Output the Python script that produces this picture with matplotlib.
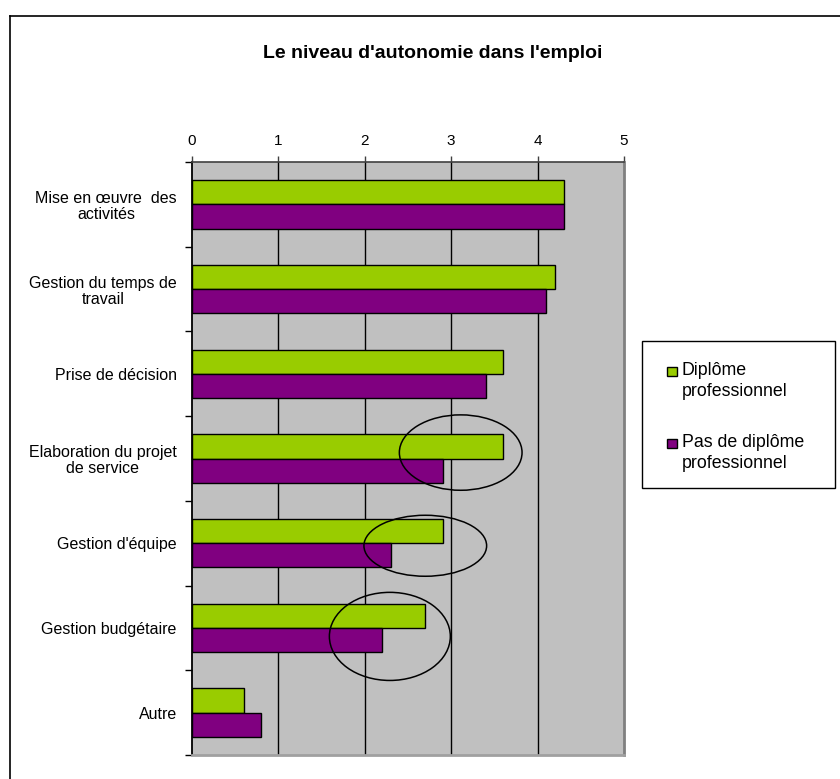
import matplotlib
matplotlib.use("Agg")
import matplotlib.pyplot as plt
import numpy as np
from matplotlib.patches import Ellipse, Rectangle
from matplotlib.lines import Line2D

plt.rcParams['font.family'] = ['Liberation Sans', 'DejaVu Sans']

# Data
categories = [
    "Mise en œuvre  des\nactivités",
    "Gestion du temps de\ntravail",
    "Prise de décision",
    "Elaboration du projet\nde service",
    "Gestion d'équipe",
    "Gestion budgétaire",
    "Autre",
]
series_names = ["Diplôme\nprofessionnel", "Pas de diplôme\nprofessionnel"]
diplome = [4.3, 4.2, 3.6, 3.6, 2.9, 2.7, 0.6]
sans_diplome = [4.3, 4.1, 3.4, 2.9, 2.3, 2.2, 0.8]
x_ticks = [0, 1, 2, 3, 4, 5]

colors = ["#99CC00", "#800080"]

W, H = 840, 779
fig = plt.figure(figsize=(W / 100, H / 100), dpi=100)
fig.patch.set_facecolor("white")

# Outer chart frame (left and top edges)
fig.add_artist(Line2D([9.5 / W, 9.5 / W], [0, 1 - 15.5 / H], color="black", lw=1.2))
fig.add_artist(Line2D([9.5 / W, 1], [1 - 15.5 / H, 1 - 15.5 / H], color="black", lw=1.2))

left, right, top, bottom = 192, 624, 162, 755
ax = fig.add_axes([left / W, 1 - bottom / H, (right - left) / W, (bottom - top) / H])
ax.set_facecolor("#C0C0C0")

y = np.arange(len(categories))
bar_h = 0.286
ax.barh(y - bar_h / 2, diplome, height=bar_h, color=colors[0], edgecolor="black", linewidth=1, zorder=3)
ax.barh(y + bar_h / 2, sans_diplome, height=bar_h, color=colors[1], edgecolor="black", linewidth=1, zorder=3)

ax.set_xlim(0, 5)
ax.set_ylim(len(categories) - 0.5, -0.5)

# Vertical gridlines
for v in x_ticks[1:-1]:
    ax.axvline(v, color="black", lw=1, zorder=1)

# Top value axis
ax.xaxis.tick_top()
ax.set_xticks(x_ticks)
ax.set_xticklabels([str(t) for t in x_ticks], fontsize=11)
ax.tick_params(axis="x", direction="out", length=4, width=1, pad=6, colors="#404040", labelcolor="black")

# Category axis: labels at centers, ticks at boundaries
ax.set_yticks(y)
ax.set_yticklabels(categories, fontsize=11.5)
for t in ax.get_yticklabels():
    t.set_multialignment("center")
    t.set_linespacing(1.1)
ax.tick_params(axis="y", which="major", length=0, pad=11)
ax.set_yticks(np.arange(-0.5, len(categories) + 0.5, 1), minor=True)
ax.tick_params(axis="y", which="minor", direction="out", length=5, width=1, color="black")

ax.spines["left"].set_color("black")
ax.spines["left"].set_linewidth(1.3)
ax.spines["top"].set_color("#404040")
ax.spines["top"].set_linewidth(1.2)
ax.spines["right"].set_color("#808080")
ax.spines["right"].set_linewidth(2)
ax.spines["bottom"].set_color("#A0A0A0")
ax.spines["bottom"].set_linewidth(2)

# Highlight ellipses around the gaps
for cx, cy, ew, eh in [(3.11, 2.93, 1.42, 0.89), (2.70, 4.03, 1.42, 0.72), (2.29, 5.10, 1.40, 1.04)]:
    ax.add_patch(Ellipse((cx, cy), ew, eh, fill=False, edgecolor="black", lw=1.1, zorder=5))

# Title
fig.text(432.5 / W, 1 - 54 / H, "Le niveau d'autonomie dans l'emploi", ha="center", va="center",
         fontsize=14, fontweight="bold")

# Legend
lx0, ly0, lx1, ly1 = 641.5, 341, 835, 487.5
fig.add_artist(Rectangle((lx0 / W, 1 - ly1 / H), (lx1 - lx0) / W, (ly1 - ly0) / H,
                         transform=fig.transFigure, fill=True, facecolor="white",
                         edgecolor="black", lw=1))
for i, (name, c) in enumerate(zip(series_names, colors)):
    ty = 371.5 + i * 72
    fig.add_artist(Rectangle((667 / W, 1 - (ty + 4.5) / H), 10 / W, 9 / H,
                             transform=fig.transFigure, facecolor=c, edgecolor="black", lw=1))
    fig.text(681.5 / W, 1 - (ty - 9.5) / H, name, ha="left", va="top", fontsize=12.8,
             linespacing=1.3)

fig.savefig("out.png", dpi=100)
